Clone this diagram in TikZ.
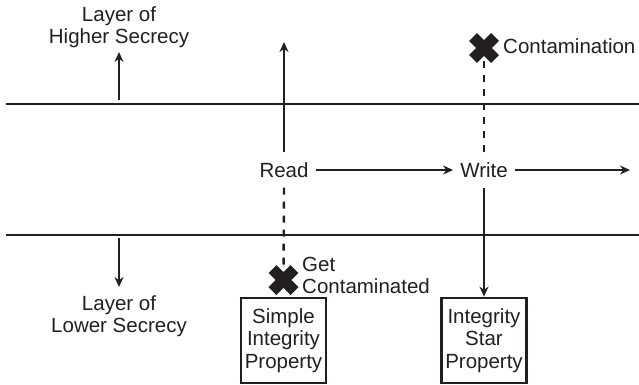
\documentclass[tikz,border=0pt]{standalone}
\usepackage{fontspec}
\setmainfont{Liberation Sans}
\usetikzlibrary{arrows.meta}
\definecolor{ink}{HTML}{231F20}
\begin{document}
\begin{tikzpicture}[x=1pt,y=-1pt,
  every node/.style={text=ink,font=\fontsize{20.5}{22.5}\selectfont},
  layer/.style={draw=ink,line width=2.6pt},
  flow/.style={draw=ink,line width=2.4pt,-{Stealth[length=10pt,width=9pt]}},
  leak/.style={draw=ink,line width=2.4pt,dash pattern=on 7pt off 7pt},
  op/.style={inner xsep=7pt,inner ysep=10pt,text height=14.7pt,text depth=0pt},
  prop/.style={draw=ink,line width=2.8pt,minimum width=85pt,minimum height=85pt,
    align=center,inner sep=0pt},
  cross/.style={draw=ink,line width=11pt,line cap=butt},
  caption/.style={align=center,inner sep=0pt}]
\useasboundingbox (0,0) rectangle (639,384);

% layer boundaries
\coordinate (hiL) at (6,104);   \coordinate (hiR) at (639,104);
\coordinate (loL) at (6,235);   \coordinate (loR) at (639,235);
\draw[layer] (hiL) -- (hiR);
\draw[layer] (loL) -- (loR);

% layer captions with direction arrows
\node[caption] (hicap) at (119,27) {Layer of\\Higher Secrecy};
\node[caption] (locap) at (119,316) {Layer of\\Lower Secrecy};
\coordinate (upA) at (119,100);  \coordinate (upB) at (119,52);
\coordinate (dnA) at (119,238);  \coordinate (dnB) at (119,287);
\draw[flow] (upA) -- (upB);
\draw[flow] (dnA) -- (dnB);

% operations
\node[op] (read) at (284,170) {Read};
\node[op] (write) at (484,170) {Write};
\coordinate (readTop) at (284,42);
\coordinate (writeEnd) at (630,170);

% properties
\node[prop] (sip) at (283.5,340.5) {Simple\\Integrity\\Property};
\node[prop] (isp) at (484,340.5) {Integrity\\Star\\Property};

% contamination marks
\coordinate (xhi) at (484,48);
\coordinate (xlo) at (283.5,280);

\draw[flow] (read.north) -- (readTop);
\draw[flow] (read.east) -- (write.west);
\draw[flow] (write.east) -- (writeEnd);
\draw[flow] (write.south) -- (isp.north);
\draw[leak] (write.north) -- (xhi);
\draw[leak] (read.south) -- (xlo);

\draw[cross] ([shift={(-11,-11)}]xhi) -- ([shift={(11,11)}]xhi);
\draw[cross] ([shift={(-11,11)}]xhi) -- ([shift={(11,-11)}]xhi);
\draw[cross] ([shift={(-11,-11)}]xlo) -- ([shift={(11,11)}]xlo);
\draw[cross] ([shift={(-11,11)}]xlo) -- ([shift={(11,-11)}]xlo);

\node[anchor=west,inner sep=0pt] (contam) at (503,46) {Contamination};
\node[anchor=west,align=left,inner sep=0pt] (getc) at (302,275.5) {Get\\Contaminated};
\end{tikzpicture}
\end{document}
